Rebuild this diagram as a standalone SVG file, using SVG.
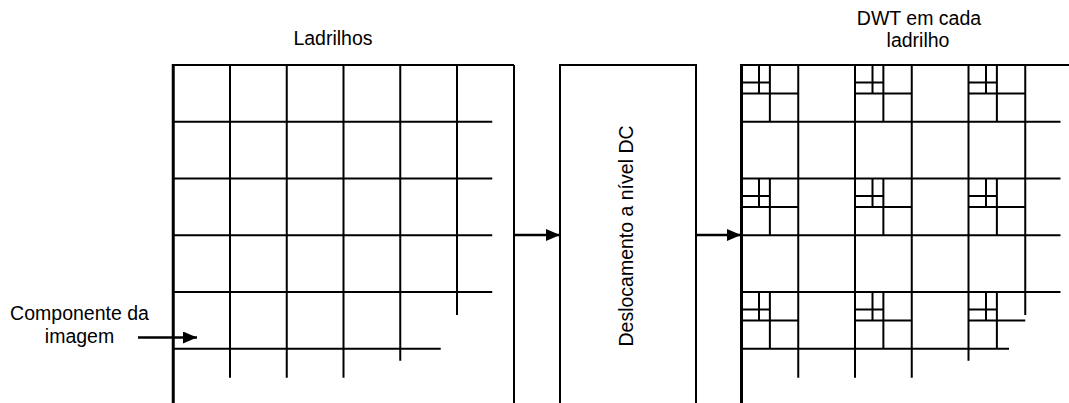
<svg xmlns="http://www.w3.org/2000/svg" xmlns:xlink="http://www.w3.org/1999/xlink" width="1069" height="403" viewBox="0 0 1069 403">
  <style>
    .grid { fill: none; stroke: #000; stroke-width: 2; }
    .edge { fill: none; stroke: #000; stroke-width: 3; }
    .box { fill: #fff; stroke: #000; stroke-width: 2; }
    .conn { fill: none; stroke: #000; stroke-width: 2.5; }
    .label { font-family: "Liberation Sans", Arial, sans-serif; font-size: 19.5px; fill: #000; text-anchor: middle; }
  </style>
  <defs>
    <marker id="arrow" markerUnits="userSpaceOnUse" markerWidth="14" markerHeight="12" refX="14" refY="6" orient="auto">
      <path d="M0,0 L14,6 L0,12 Z" fill="#000"/>
    </marker>
    <!-- tile grid: 6 columns x 6 rows of 56.75 px cells, ragged at the lower right -->
    <g id="tile-grid" class="grid">
      <path d="M0,56.75 H319 M0,113.5 H319 M0,170.25 H319 M0,227 H319 M0,283.75 H267.5"/>
      <path d="M56.75,0 V312.7 M113.5,0 V312.7 M170.25,0 V312.7 M227,0 V295.7 M283.75,0 V250"/>
    </g>
    <!-- 3-level wavelet split of the LL cell inside a 2x2-cell tile -->
    <g id="ll-split" class="grid">
      <path d="M28.375,0 V56.75 M0,28.375 H56.75"/>
      <path d="M17.5,0 V28.375 M0,17.5 H28.375"/>
    </g>
  </defs>

  <!-- input image split into tiles -->
  <g id="tiles">
    <use xlink:href="#tile-grid" x="173.25" y="65"/>
    <path class="grid" d="M173.25,65 H514 M514,65 V403"/>
    <path class="edge" d="M173.25,64 V403"/>
    <text class="label" x="333" y="45">Ladrilhos</text>
  </g>

  <!-- image component label -->
  <g id="component">
    <text class="label" x="79.5" y="320">Componente da</text>
    <text class="label" x="79.5" y="343">imagem</text>
  </g>

  <!-- DC level shift stage -->
  <g id="dc-shift">
    <rect class="box" x="560" y="65" width="136" height="360"/>
    <text class="label" transform="translate(632.5,236) rotate(-90)">Deslocamento a nível DC</text>
  </g>

  <!-- DWT applied to every tile -->
  <g id="dwt-tiles">
    <use xlink:href="#tile-grid" x="741.5" y="65"/>
    <path class="grid" d="M741.5,65 H1069"/>
    <use xlink:href="#ll-split" x="741.5" y="65"/>
    <use xlink:href="#ll-split" x="855" y="65"/>
    <use xlink:href="#ll-split" x="968.5" y="65"/>
    <use xlink:href="#ll-split" x="741.5" y="178.5"/>
    <use xlink:href="#ll-split" x="855" y="178.5"/>
    <use xlink:href="#ll-split" x="968.5" y="178.5"/>
    <use xlink:href="#ll-split" x="741.5" y="292"/>
    <use xlink:href="#ll-split" x="855" y="292"/>
    <use xlink:href="#ll-split" x="968.5" y="292"/>
    <path class="edge" d="M741.5,64 V403"/>
    <text class="label" x="919" y="25">DWT em cada</text>
    <text class="label" x="918" y="47">ladrilho</text>
  </g>

  <!-- connectors -->
  <g id="connectors">
    <line class="conn" x1="138" y1="337.5" x2="197" y2="337.5" marker-end="url(#arrow)"/>
    <line class="conn" x1="515" y1="235" x2="560" y2="235" marker-end="url(#arrow)"/>
    <line class="conn" x1="697" y1="235" x2="741" y2="235" marker-end="url(#arrow)"/>
  </g>
</svg>
